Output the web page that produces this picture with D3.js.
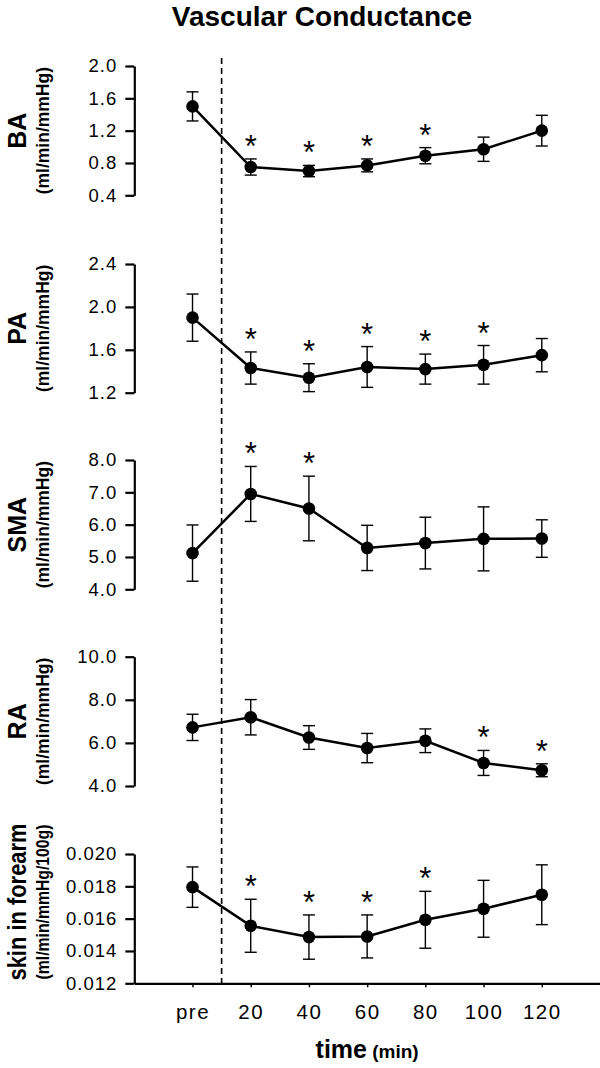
<!DOCTYPE html>
<html><head><meta charset="utf-8">
<script src="https://cdn.jsdelivr.net/npm/d3@7/dist/d3.min.js"></script>
<style>
body{margin:0;background:#fff;}
svg{display:block;}
text{font-family:"Liberation Sans",Arial,Helvetica,sans-serif;fill:#000;}
</style>
</head><body>
<svg id="chart" width="600" height="1068"></svg>
<script>
// ---- data ----
const categories = ["pre","20","40","60","80","100","120"];

const baMean = [1.50, 0.75, 0.70, 0.77, 0.89, 0.97, 1.20];
const baSE   = [0.18, 0.10, 0.07, 0.08, 0.10, 0.15, 0.19];
const baSig  = [0, 1, 1, 1, 1, 0, 0];
const baTicks = [0.4, 0.8, 1.2, 1.6, 2.0];

const paMean = [1.90, 1.43, 1.34, 1.44, 1.42, 1.46, 1.55];
const paSE   = [0.22, 0.15, 0.13, 0.19, 0.14, 0.18, 0.155];
const paSig  = [0, 1, 1, 1, 1, 1, 0];
const paTicks = [1.2, 1.6, 2.0, 2.4];

const smaMean = [5.12, 6.95, 6.50, 5.28, 5.43, 5.56, 5.57];
const smaSE   = [0.87, 0.85, 1.00, 0.70, 0.80, 0.99, 0.58];
const smaSig  = [0, 1, 1, 0, 0, 0, 0];
const smaTicks = [4.0, 5.0, 6.0, 7.0, 8.0];

const raMean = [6.72, 7.19, 6.25, 5.76, 6.10, 5.07, 4.73];
const raSE   = [0.61, 0.82, 0.55, 0.68, 0.55, 0.58, 0.30];
const raSig  = [0, 0, 0, 0, 0, 1, 1];
const raTicks = [4.0, 6.0, 8.0, 10.0];

const skinMean = [0.01795, 0.01556, 0.01486, 0.01490, 0.01593, 0.01661, 0.01748];
const skinSE   = [0.00125, 0.00164, 0.00137, 0.00133, 0.00176, 0.00176, 0.00185];
const skinSig  = [0, 1, 1, 1, 1, 0, 0];
const skinTicks = [0.012, 0.014, 0.016, 0.018, 0.020];

const titleText = "Vascular Conductance";
const xTitle = "time";
const xUnit = "(min)";

// ---- layout ----
const W = 600, H = 1068;
const axisX = 134.3;
const panels = [
  {name:"BA",  unit:"(ml/min/mmHg)", mean:baMean, se:baSE, sig:baSig, ticks:baTicks, fmt:".1f", top:66,    bottom:195.3},
  {name:"PA",  unit:"(ml/min/mmHg)", mean:paMean, se:paSE, sig:paSig, ticks:paTicks, fmt:".1f", top:264,   bottom:392.7},
  {name:"SMA", unit:"(ml/min/mmHg)", mean:smaMean, se:smaSE, sig:smaSig, ticks:smaTicks, fmt:".1f", top:460, bottom:589.3},
  {name:"RA",  unit:"(ml/min/mmHg)", mean:raMean, se:raSE, sig:raSig, ticks:raTicks, fmt:".1f", top:656.7, bottom:786},
  {name:"skin in forearm", unit:"(ml/min/mmHg/100g)", mean:skinMean, se:skinSE, sig:skinSig, ticks:skinTicks, fmt:".3f", top:854, bottom:983.3, labelCenter:902, labelLen:157}
];

const svg = d3.select("#chart");
svg.append("rect").attr("width",W).attr("height",H).attr("fill","#fff");

const x = d3.scalePoint().domain(categories).range([axisX, W]).padding(1);

// title
svg.append("text")
  .attr("x", 322).attr("y", 26)
  .attr("text-anchor","middle")
  .attr("font-size", 28).attr("font-weight","bold")
  .text(titleText);

panels.forEach((p) => {
  const [lo, hi] = d3.extent(p.ticks);
  const y = d3.scaleLinear().domain([lo, hi]).range([p.bottom, p.top]);
  const g = svg.append("g");

  // y axis
  const ax = g.append("g")
    .attr("transform", `translate(${axisX},0)`)
    .call(d3.axisLeft(y).tickValues(p.ticks).tickFormat(d3.format(p.fmt))
      .tickSize(9).tickSizeOuter(0).tickPadding(8));
  ax.select(".domain").attr("stroke","#000").attr("stroke-width",2.2);
  ax.selectAll(".tick line").attr("stroke","#000").attr("stroke-width",2.2);
  ax.selectAll(".tick text").attr("font-size",18.5).attr("letter-spacing",1)
    .attr("font-family",null);

  // axis labels
  const cy = p.labelCenter !== undefined ? p.labelCenter : (p.top + p.bottom) / 2;
  const nameT = g.append("text")
    .attr("transform", `translate(26,${cy}) rotate(-90)`)
    .attr("text-anchor","middle")
    .attr("font-size", 25).attr("font-weight","bold")
    .text(p.name);
  const unitT = g.append("text")
    .attr("transform", `translate(48.6,${cy}) rotate(-90)`)
    .attr("text-anchor","middle")
    .attr("font-size", 17.5).attr("font-weight","bold")
    .text(p.unit);
  if (p.labelLen) {
    nameT.attr("textLength", p.labelLen).attr("lengthAdjust","spacingAndGlyphs");
    unitT.attr("textLength", p.labelLen - 2).attr("lengthAdjust","spacingAndGlyphs");
  }

  const pts = categories.map((c, i) => ({c, m:p.mean[i], e:p.se[i], s:p.sig[i]}));

  // error bars
  const eb = g.append("g").attr("stroke","#000").attr("stroke-width",1.4).attr("fill","none");
  pts.forEach(d => {
    const cx = x(d.c);
    eb.append("line").attr("x1",cx).attr("x2",cx).attr("y1",y(d.m + d.e)).attr("y2",y(d.m - d.e));
    eb.append("line").attr("x1",cx-6).attr("x2",cx+6).attr("y1",y(d.m + d.e)).attr("y2",y(d.m + d.e));
    eb.append("line").attr("x1",cx-6).attr("x2",cx+6).attr("y1",y(d.m - d.e)).attr("y2",y(d.m - d.e));
  });

  // line
  g.append("path").datum(pts)
    .attr("fill","none").attr("stroke","#000").attr("stroke-width",2.5)
    .attr("d", d3.line().x(d => x(d.c)).y(d => y(d.m)));

  // points
  g.selectAll("circle.pt").data(pts).join("circle")
    .attr("cx", d => x(d.c)).attr("cy", d => y(d.m)).attr("r", 6.3).attr("fill","#000");

  // significance stars
  g.selectAll("text.star").data(pts.filter(d => d.s)).join("text")
    .attr("class","star")
    .attr("x", d => x(d.c)).attr("y", d => y(d.m + d.e) - 2)
    .attr("text-anchor","middle").attr("font-size", 31)
    .text("*");
});

// x axis (bottom panel)
const last = panels[panels.length - 1];
const xa = svg.append("g")
  .attr("transform", `translate(0,${last.bottom})`)
  .call(d3.axisBottom(x).tickSize(4).tickSizeOuter(0).tickPadding(17));
xa.select(".domain").attr("stroke","#000").attr("stroke-width",2.2);
xa.selectAll(".tick line").attr("stroke","#000").attr("stroke-width",1.5);
xa.selectAll(".tick text").attr("font-size",20.5).attr("letter-spacing",1.5)
  .attr("font-family",null);

// x title
const xt = svg.append("text")
  .attr("x", (x(categories[0]) + x(categories[categories.length-1])) / 2)
  .attr("y", 1058).attr("text-anchor","middle").attr("font-weight","bold");
xt.append("tspan").attr("font-size",25).text(xTitle);
xt.append("tspan").attr("font-size",19).text(" " + xUnit);

// dashed separator between pre and 20
const dashX = (x(categories[0]) + x(categories[1])) / 2;
svg.append("line")
  .attr("x1", dashX).attr("x2", dashX)
  .attr("y1", 58).attr("y2", last.bottom)
  .attr("stroke","#000").attr("stroke-width",1.6).attr("stroke-dasharray","6,4");
</script>
</body></html>
